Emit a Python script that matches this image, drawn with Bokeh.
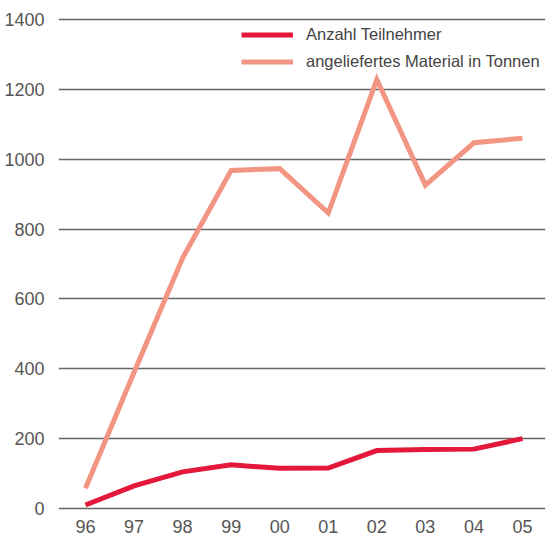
from bokeh.plotting import figure
from bokeh.models import Range1d, FixedTicker, Legend, LegendItem
from bokeh.embed import file_html
from bokeh.resources import INLINE

years = ["96", "97", "98", "99", "00", "01", "02", "03", "04", "05"]
teilnehmer = [10, 65, 105, 125, 115, 116, 166, 169, 170, 200]
material = [58, 390, 717, 968, 973, 846, 1228, 926, 1047, 1060]
y_ticks = [0, 200, 400, 600, 800, 1000, 1200, 1400]

xs = list(range(len(years)))

p = figure(width=550, height=535, output_backend="svg", toolbar_location=None,
           x_range=Range1d(-0.556, 9.474), y_range=Range1d(-5.7, 1425.7),
           min_border_top=10, min_border_left=58, min_border_right=5, min_border_bottom=24)
p.outline_line_color = None
p.background_fill_color = "white"
p.border_fill_color = "white"

font = "Liberation Sans"
p.xaxis.ticker = FixedTicker(ticks=xs)
p.xaxis.major_label_overrides = {i: y for i, y in enumerate(years)}
p.yaxis.ticker = FixedTicker(ticks=y_ticks)
for ax in (p.xaxis[0], p.yaxis[0]):
    ax.axis_line_color = None
    ax.major_tick_line_color = None
    ax.minor_tick_line_color = None
    ax.major_label_text_font = font
    ax.major_label_text_font_size = "18px"
    ax.major_label_text_color = "#555555"
p.xaxis.major_label_standoff = 3
p.yaxis.major_label_standoff = 8

p.xgrid.grid_line_color = None
p.ygrid.grid_line_color = "#666666"
p.ygrid.grid_line_width = 1.3

r1 = p.line(xs, teilnehmer, line_color="#e4183b", line_width=5, line_join="miter")
r2 = p.line(xs, material, line_color="#f29583", line_width=5, line_join="miter")

legend = Legend(items=[LegendItem(label="Anzahl Teilnehmer", renderers=[r1]),
                       LegendItem(label="angeliefertes Material in Tonnen", renderers=[r2])],
                location=(183, 435), padding=0, margin=0, spacing=0,
                glyph_width=52, glyph_height=27, label_height=27, label_standoff=13,
                label_text_font=font, label_text_font_size="16.5px",
                label_text_color="#444444", background_fill_alpha=0,
                border_line_color=None)
p.add_layout(legend)

open("out.html", "w").write(file_html(p, INLINE))
